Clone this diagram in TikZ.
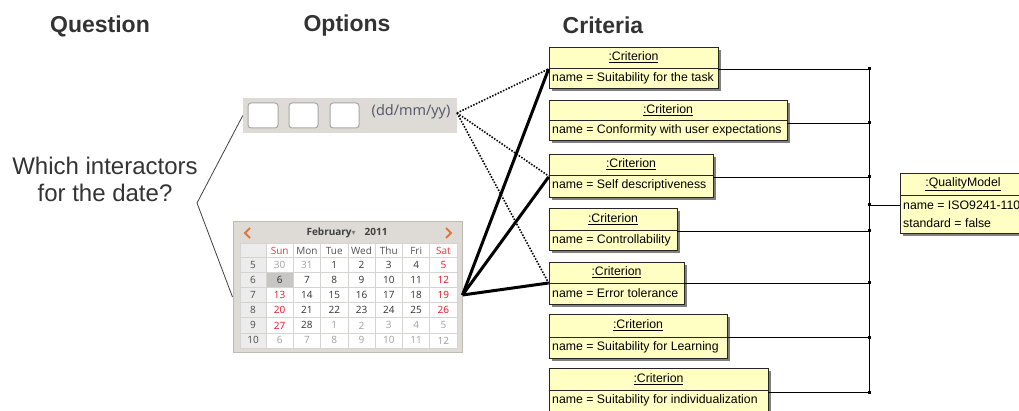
\documentclass[tikz,border=0pt]{standalone}
\usepackage{fontspec}
\setmainfont{Liberation Sans}
\newfontfamily\calfont{Open Sans}
\newfontfamily\symfont{DejaVu Sans}
\usetikzlibrary{fit,shadows,calc}
\definecolor{critfill}{RGB}{255,255,196}
\definecolor{ttl}{RGB}{51,51,51}
\definecolor{calbg}{RGB}{222,219,214}
\definecolor{calbd}{RGB}{190,186,180}
\definecolor{gridc}{RGB}{214,212,209}
\definecolor{wkbg}{RGB}{236,236,236}
\definecolor{selbg}{RGB}{200,198,196}
\definecolor{dk}{RGB}{50,50,50}
\definecolor{lg}{RGB}{160,160,160}
\definecolor{rd}{RGB}{232,20,30}
\definecolor{chev}{RGB}{224,118,64}
\definecolor{ddc}{RGB}{80,86,104}
\newcommand\CritBox[6]{%
  \node[critbox, fit={(549,#3) (#2,#5)}] (#1) {};
  \draw[critline] (#1.west |- 0,#4) -- (#1.east |- 0,#4);
  \node[crittitle] (#1t) at ({(549+#2)/2},{(#3+#4)/2}) {\underline{:Criterion}};
  \node[critname] (#1n) at (552,{#4+10.5}) {name = #6};
}
\begin{document}
\begin{tikzpicture}[x=1pt,y=-1pt,
  title/.style={font=\bfseries\fontsize{23}{28}\selectfont, text=ttl, inner sep=0, anchor=base},
  qtext/.style={font=\fontsize{24}{27}\selectfont, text=ttl, align=center, inner sep=0},
  critbox/.style={draw=black!85, line width=0.8pt, fill=critfill, inner sep=0,
     drop shadow={shadow xshift=3pt, shadow yshift=-3pt, fill=black!50, opacity=1}},
  critline/.style={draw=black!85, line width=0.8pt},
  crittitle/.style={font=\fontsize{12.3}{14}\selectfont, inner sep=0},
  critname/.style={font=\fontsize{12.3}{14}\selectfont, inner sep=0, anchor=west},
  bus/.style={draw=black, line width=0.8pt},
  busdot/.style={fill=black, minimum size=3pt, inner sep=0},
  calbox/.style={draw=calbd, fill=calbg, line width=1pt, inner sep=0},
  day/.style={font=\calfont\fontsize{10}{12}\selectfont, inner sep=0},
  wk/.style={font=\calfont\fontsize{10}{12}\selectfont, inner sep=0, text=black!70},
  tbox/.style={draw=black!35, fill=white, rounded corners=3pt, line width=1pt, inner sep=0},
  dotl/.style={line width=1.6pt, dash pattern=on 1.5pt off 1.5pt},
  thickl/.style={line width=3pt},
  qline/.style={draw=black!75, line width=0.8pt}
]
\useasboundingbox (0,0) rectangle (1019,411);
\clip (0,0) rectangle (1019,411);

% titles
\node[title] (tq) at (100,33) {Question};
\node[title] (to) at (347,32) {Options};
\node[title] (tc) at (603,34) {Criteria};

% question
\node[qtext] (q) at (105,179) {Which interactors\\for the date?};
\coordinate (qv) at (197,203);

% text input strip
\node[fit={(243,98) (457,133)}, fill=calbg, inner sep=0] (strip) {};
\node[tbox, fit={(248,103) (278,128)}] (tb1) {};
\node[tbox, fit={(289,103) (318,128)}] (tb2) {};
\node[tbox, fit={(330,103) (359,128)}] (tb3) {};
\node[font=\calfont\fontsize{14.5}{16}\selectfont, text=ddc, inner sep=0] (ddmm) at (411,112) {(dd/mm/yy)};

% calendar
\node[calbox, fit={(233,222) (462,352)}] (cal) {};
\draw[chev, line width=2pt] (250,228) -- (245,233) -- (250,238);
\draw[chev, line width=2pt] (446,228) -- (451,233) -- (446,238);
\node[font=\calfont\fontsize{10}{12}\selectfont, text=black!75, inner sep=0] (month) at (347,233)
  {\bfseries February{\symfont\fontsize{8}{8}\selectfont\textcolor{black!50}{▾}}\hspace{9pt}2011};
\fill[white] (240,243) rectangle (457,348);
\fill[wkbg] (240,243) rectangle (266,348);
\fill[selbg] (266,272.6) rectangle (293.3,287.7);
\foreach \yy in {243,257.5,272.6,287.7,302.8,317.8,332.9,348}
  \draw[gridc, line width=0.8pt] (240,\yy) -- (457,\yy);
\foreach \xx in {240,266,293.3,320.6,347.9,375.1,402.4,429.7,457}
  \draw[gridc, line width=0.8pt] (\xx,243) -- (\xx,348);
\foreach \t/\cl [count=\c from 0] in {Sun/rd,Mon/dk,Tue/dk,Wed/dk,Thu/dk,Fri/dk,Sat/rd}
  \node[day, text=\cl!85!white] (h-\c) at ({266+27.3*(\c+0.5)},250.5) {\t};
\foreach \w [count=\r] in {5,6,7,8,9,10}
  \node[wk] (w-\r) at (253,{257.5+15.07*(\r-0.5)}) {\w};
\foreach \t/\cl [count=\c from 0] in {30/lg,31/lg,1/dk,2/dk,3/dk,4/dk,5/rd}
  \node[day, text=\cl] (d1-\c) at ({266+27.3*(\c+0.5)},265.1) {\t};
\foreach \t/\cl [count=\c from 0] in {6/dk,7/dk,8/dk,9/dk,10/dk,11/dk,12/rd}
  \node[day, text=\cl] (d2-\c) at ({266+27.3*(\c+0.5)},280.1) {\t};
\foreach \t/\cl [count=\c from 0] in {13/rd,14/dk,15/dk,16/dk,17/dk,18/dk,19/rd}
  \node[day, text=\cl] (d3-\c) at ({266+27.3*(\c+0.5)},295.2) {\t};
\foreach \t/\cl [count=\c from 0] in {20/rd,21/dk,22/dk,23/dk,24/dk,25/dk,26/rd}
  \node[day, text=\cl] (d4-\c) at ({266+27.3*(\c+0.5)},310.3) {\t};
\foreach \t/\cl [count=\c from 0] in {27/rd,28/dk,1/lg,2/lg,3/lg,4/lg,5/lg}
  \node[day, text=\cl] (d5-\c) at ({266+27.3*(\c+0.5)},325.4) {\t};
\foreach \t/\cl [count=\c from 0] in {6/lg,7/lg,8/lg,9/lg,10/lg,11/lg,12/lg}
  \node[day, text=\cl] (d6-\c) at ({266+27.3*(\c+0.5)},340.4) {\t};

% question connectors
\draw[qline] (strip.west) -- (qv) -- (cal.west |- 0,297);

% criteria
\CritBox{c1}{718}{47}{68}{88}{Suitability for the task}
\CritBox{c2}{787}{100}{120}{140}{Conformity with user expectations}
\CritBox{c3}{713}{154}{175}{197}{Self descriptiveness}
\CritBox{c4}{677}{208}{230}{250}{Controllability}
\CritBox{c5}{684}{262}{283}{304}{Error tolerance}
\CritBox{c6}{727}{314}{337}{358}{Suitability for Learning}
\CritBox{c7}{768}{368}{390}{420}{Suitability for individualization}

% quality model
\node[critbox, fit={(900,173) (1026,233)}] (qm) {};
\draw[critline] (qm.west |- 0,195) -- (qm.east |- 0,195);
\node[crittitle] (qmt) at (963,184) {\underline{:QualityModel}};
\node[critname] (qmn) at (903,205) {name = ISO9241-110};
\node[critname] (qms) at (903,223) {standard = false};

% bus
\coordinate (b1) at (869,69);
\coordinate (b2) at (869,123);
\coordinate (b3) at (869,177);
\coordinate (b4) at (869,231);
\coordinate (b5) at (869,283);
\coordinate (b6) at (869,337);
\coordinate (b7) at (869,392);
\coordinate (bq) at (869,205);
\draw[bus] (b1) -- (b7);
\foreach \i in {1,...,7} {
  \draw[bus] (c\i.east |- b\i) -- (b\i);
  \node[busdot] (dot\i) at (b\i) {};
}
\draw[bus] (bq) -- (qm.west |- bq);
\node[busdot] (dotq) at (bq) {};

% option-to-criteria connectors
\coordinate (sp) at (457,113);
\coordinate (cp) at (cal.east |- 0,295);
\draw[dotl] (sp) -- (c1.west |- 0,69);
\draw[dotl] (sp) -- (c3.west |- 0,176);
\draw[dotl] (sp) -- (c5.west |- 0,283);
\draw[thickl] (cp) -- (c1.west |- 0,69);
\draw[thickl] (cp) -- (c3.west |- 0,177);
\draw[thickl] (cp) -- (c5.west |- 0,283);
\end{tikzpicture}
\end{document}
